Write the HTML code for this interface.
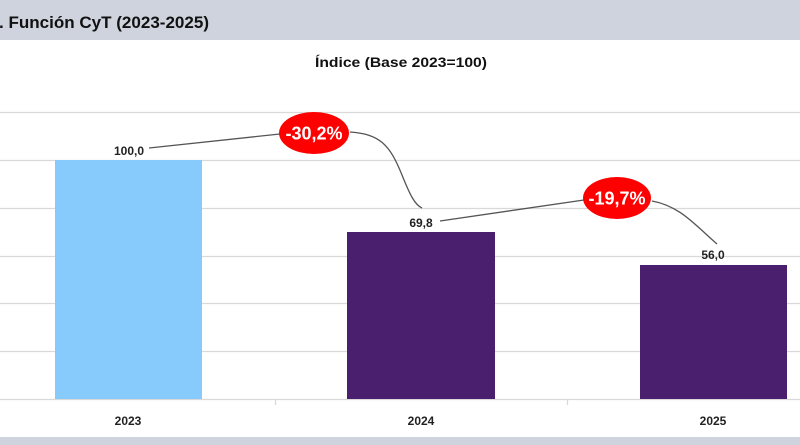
<!DOCTYPE html>
<html><head><meta charset="utf-8"><style>
html,body{margin:0;padding:0;width:800px;height:445px;overflow:hidden;background:#fff}
</style></head><body>
<svg width="800" height="445" viewBox="0 0 800 445" xmlns="http://www.w3.org/2000/svg" font-family="Liberation Sans, Arial, sans-serif">
<rect x="0" y="0" width="800" height="40" fill="#cfd3de"/>
<text x="-1" y="28" font-size="17" font-weight="bold" fill="#111" textLength="210" lengthAdjust="spacingAndGlyphs">. Función CyT (2023-2025)</text>
<rect x="0" y="437" width="800" height="8" fill="#cfd3de"/>
<text x="401" y="67" font-size="14" font-weight="bold" fill="#111" text-anchor="middle" textLength="172" lengthAdjust="spacingAndGlyphs">Índice (Base 2023=100)</text>
<g stroke="#d9d9d9" stroke-width="1.3">
<line x1="0" y1="112.5" x2="800" y2="112.5"/>
<line x1="0" y1="160.5" x2="800" y2="160.5"/>
<line x1="0" y1="208.5" x2="800" y2="208.5"/>
<line x1="0" y1="256.5" x2="800" y2="256.5"/>
<line x1="0" y1="303.5" x2="800" y2="303.5"/>
<line x1="0" y1="351.5" x2="800" y2="351.5"/>
<line x1="0" y1="399.5" x2="800" y2="399.5"/>
<line x1="275.5" y1="399" x2="275.5" y2="405"/>
<line x1="567.5" y1="399" x2="567.5" y2="405"/>
</g>
<rect x="55" y="160" width="147" height="239" fill="#87cbfc"/>
<rect x="347" y="232" width="148" height="167" fill="#4a1f6e"/>
<rect x="640" y="265" width="147" height="134" fill="#4a1f6e"/>
<g font-size="12" font-weight="bold" fill="#222">
<text x="128" y="425" text-anchor="middle">2023</text>
<text x="421" y="425" text-anchor="middle">2024</text>
<text x="713" y="425" text-anchor="middle">2025</text>
<text x="129" y="155" text-anchor="middle">100,0</text>
<text x="421" y="227" text-anchor="middle">69,8</text>
<text x="713" y="259" text-anchor="middle">56,0</text>
</g>
<g fill="none" stroke="#555" stroke-width="1.3">
<path d="M149 148 L280 134"/>
<path d="M350 132 C380 134 390 145 402 175 C410 195 415 205 422 208"/>
<path d="M440 221 L584 200"/>
<path d="M652 201 C680 206 695 225 717 244"/>
</g>
<ellipse cx="314" cy="133" rx="35" ry="21" fill="#ff0000"/>
<ellipse cx="617" cy="198" rx="34" ry="21" fill="#ff0000"/>
<g font-size="18" font-weight="bold" fill="#fff" text-anchor="middle">
<text x="314" y="139.5">-30,2%</text>
<text x="617" y="204.5">-19,7%</text>
</g>
</svg>
</body></html>
